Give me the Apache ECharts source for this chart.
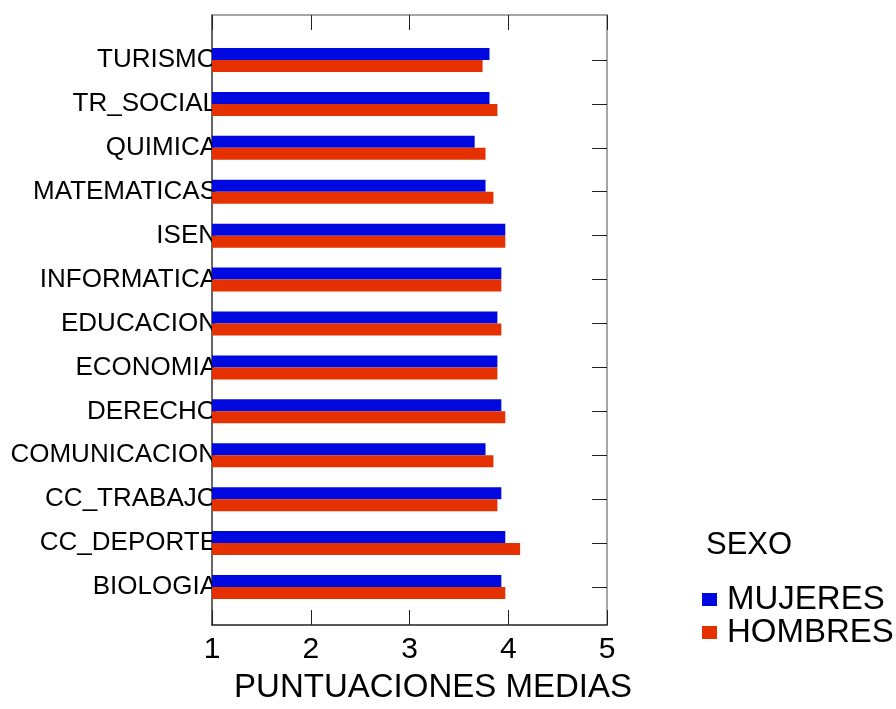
<!DOCTYPE html>
<html>
<head>
<meta charset="utf-8">
<script src="https://cdn.jsdelivr.net/npm/echarts@6/dist/echarts.min.js"></script>
<style>
html,body{margin:0;padding:0;background:#fff;}
#c{width:896px;height:709px;}
</style>
</head>
<body>
<div id="c"></div>
<script>
// Categories listed bottom -> top
const categories = ['BIOLOGIA','CC_DEPORTE','CC_TRABAJO','COMUNICACION','DERECHO','ECONOMIA','EDUCACION','INFORMATICA','ISEN','MATEMATICAS','QUIMICA','TR_SOCIAL','TURISMO'];
const mujeres = [3.93,3.97,3.93,3.77,3.93,3.89,3.89,3.93,3.97,3.77,3.66,3.81,3.81];
const hombres = [3.97,4.12,3.89,3.85,3.97,3.89,3.93,3.93,3.97,3.85,3.77,3.89,3.74];
const xTicks = [1,2,3,4,5];
const seriesNames = ['MUJERES','HOMBRES'];
const legendTitle = 'SEXO';
const xTitle = 'PUNTUACIONES MEDIAS';

const FONT = 'Liberation Sans, Arial, sans-serif';
const chart = echarts.init(document.getElementById('c'));
const L = 212, R = 896 - 607;

chart.setOption({
  animation: false,
  backgroundColor: '#fff',
  textStyle: {fontFamily: FONT},
  title: {
    text: legendTitle, left: 701, top: 525,
    textStyle: {fontSize: 31, fontWeight: 'normal', color: '#000', fontFamily: FONT}
  },
  legend: {
    data: seriesNames, orient: 'vertical', left: 697, top: 578,
    icon: 'rect', itemWidth: 15, itemHeight: 13, itemGap: 0,
    textStyle: {fontSize: 33, lineHeight: 33, color: '#000', fontFamily: FONT, padding: [0,0,0,5]}
  },
  grid: [
    {left: L, right: R, top: 15, bottom: 709 - 631},
    {left: L, right: R, top: 38, bottom: 709 - 609}
  ],
  xAxis: [
    {
      gridIndex: 0, type: 'value', min: xTicks[0], max: xTicks[xTicks.length-1], interval: 1, position: 'bottom',
      axisLine: {show: true, onZero: false, lineStyle: {color: '#222', width: 1.5}},
      axisTick: {show: true, inside: true, length: 15, lineStyle: {color: '#222'}},
      axisLabel: {fontSize: 30, color: '#000', margin: 10, fontFamily: FONT},
      splitLine: {show: false},
      name: xTitle, nameLocation: 'middle', nameGap: 46,
      nameTextStyle: {fontSize: 33, color: '#000', fontFamily: FONT, padding: [0,0,0,47]}
    },
    {
      gridIndex: 0, type: 'value', min: 1, max: 5, interval: 1, position: 'top',
      axisLine: {show: true, onZero: false, lineStyle: {color: '#888', width: 1.5}},
      axisTick: {show: true, inside: true, length: 15, lineStyle: {color: '#222'}},
      axisLabel: {show: false}, splitLine: {show: false}
    },
    {
      gridIndex: 1, type: 'value', min: 1, max: 5, interval: 1, show: false
    }
  ],
  yAxis: [
    {
      gridIndex: 0, type: 'value', min: 0, max: 1, position: 'left',
      axisLine: {show: true, onZero: false, lineStyle: {color: '#333', width: 1.5}},
      axisTick: {show: false}, axisLabel: {show: false}, splitLine: {show: false}
    },
    {
      gridIndex: 0, type: 'value', min: 0, max: 1, position: 'right',
      axisLine: {show: true, onZero: false, lineStyle: {color: '#888', width: 1.5}},
      axisTick: {show: false}, axisLabel: {show: false}, splitLine: {show: false}
    },
    {
      gridIndex: 1, type: 'category', data: categories, position: 'left',
      axisLine: {show: false}, axisTick: {show: false}, splitLine: {show: false},
      axisLabel: {fontSize: 26, color: '#000', margin: -5, fontFamily: FONT, padding: [6,0,0,0]}
    },
    {
      gridIndex: 1, type: 'category', data: categories, position: 'right',
      axisLine: {show: false},
      axisTick: {show: true, inside: true, length: 15, alignWithLabel: true, lineStyle: {color: '#222'}},
      axisLabel: {show: false}, splitLine: {show: false}
    }
  ],
  series: [
    {
      name: seriesNames[0], type: 'bar', xAxisIndex: 2, yAxisIndex: 2,
      data: mujeres, barWidth: 12, barGap: '0%',
      itemStyle: {color: '#0008E0'}
    },
    {
      name: seriesNames[1], type: 'bar', xAxisIndex: 2, yAxisIndex: 2,
      data: hombres, barWidth: 12, barGap: '0%',
      itemStyle: {color: '#E53000'}
    }
  ]
});
</script>
</body>
</html>
